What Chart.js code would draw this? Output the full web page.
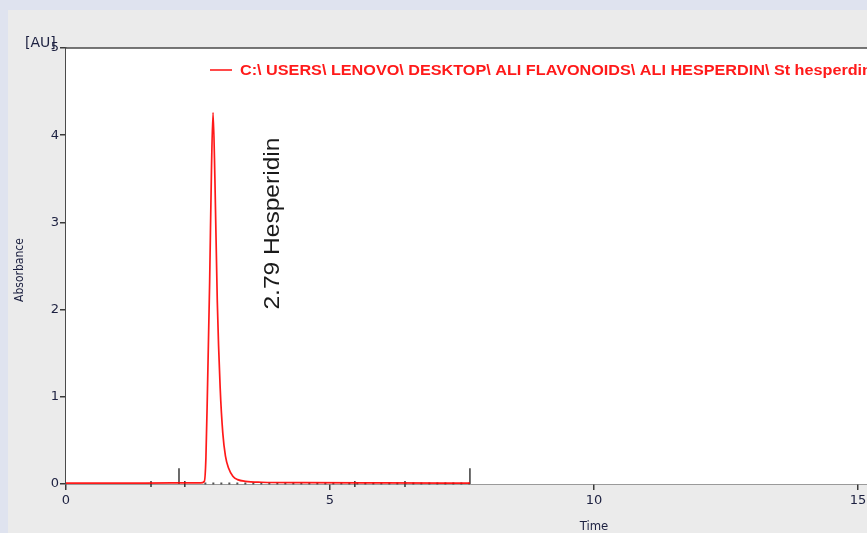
<!DOCTYPE html>
<html lang="en">
<head>
    <meta charset="UTF-8">
    <title>Hesperidin chromatogram</title>
    <script src="https://cdn.jsdelivr.net/npm/chart.js"></script>
    <style>
        body {
            margin: 0;
            padding: 0;
            background-color: #dfe3ef;
            overflow: hidden;
        }

        #panel {
            position: absolute;
            left: 8px;
            top: 10px;
            right: 0;
            bottom: 0;
            background-color: #ebebeb;
        }

        #wrap {
            position: absolute;
            left: 0;
            top: 0;
            width: 867px;
            height: 533px;
        }
    </style>
</head>
<body>
    <div id="panel"></div>
    <div id="wrap">
        <canvas id="chromChart" width="867" height="533"></canvas>
    </div>

    <script>
        // trace (time in min, absorbance in AU)
        const times = [0, 1.0, 2.0, 2.55, 2.62, 2.65, 2.68, 2.72, 2.755, 2.785, 2.82, 2.865, 2.92, 2.97, 3.02, 3.08, 3.16, 3.25, 3.4, 3.7, 4.5, 6.0, 7.65];
        const absorbance = [0.01, 0.01, 0.012, 0.012, 0.03, 0.3, 1.1, 2.3, 3.6, 4.26, 3.5, 2.1, 1.1, 0.58, 0.32, 0.18, 0.09, 0.05, 0.03, 0.02, 0.015, 0.012, 0.01];

        // integration baseline (dotted) and window markers
        const baselineTimes = [2.62, 7.65];
        const baselineValues = [0.005, 0.005];
        const windowTimes = [2.14, 7.65];
        const windowHeight = 0.18;
        const eventTimes = [1.61, 2.25, 5.47, 6.42];

        const peakTime = 2.79;
        const peakName = 'Hesperidin';
        const traceLabel = 'C:\\ USERS\\ LENOVO\\ DESKTOP\\ ALI FLAVONOIDS\\ ALI HESPERDIN\\ St hesperdin';

        const xTicks = [0, 5, 10, 15];
        const yTicks = [0, 1, 2, 3, 4, 5];
        const xMax = 15.17;
        const yMax = 5;

        const tickFont = { family: "'DejaVu Sans', Tahoma, sans-serif", size: 13 };
        const toPoints = (xs, ys) => xs.map((x, i) => ({ x: x, y: ys[i] }));

        const windowSets = windowTimes.map(t => ({
            data: [{ x: t, y: 0 }, { x: t, y: windowHeight }],
            showLine: true,
            borderColor: '#3a3a3a',
            borderWidth: 1.5,
            pointRadius: 0,
            clip: false
        }));

        const frame = {
            id: 'frame',
            beforeDatasetsDraw(chart) {
                const { ctx, chartArea } = chart;
                ctx.save();
                ctx.fillStyle = '#ffffff';
                ctx.fillRect(chartArea.left, chartArea.top, chartArea.right - chartArea.left, chartArea.bottom - chartArea.top);
                ctx.strokeStyle = '#4a4a4a';
                ctx.lineWidth = 1.5;
                ctx.beginPath();
                ctx.moveTo(chartArea.left, chartArea.top);
                ctx.lineTo(chartArea.right, chartArea.top);
                ctx.stroke();
                ctx.restore();
            },
            afterDraw(chart) {
                const { ctx } = chart;
                const xs = chart.scales.x;
                const ys = chart.scales.y;
                ctx.save();

                // legend entry
                ctx.strokeStyle = 'rgba(255,0,0,0.95)';
                ctx.lineWidth = 1.5;
                ctx.beginPath();
                ctx.moveTo(210, 70);
                ctx.lineTo(232, 70);
                ctx.stroke();
                ctx.fillStyle = '#ff1a1a';
                ctx.font = "bold 14px 'Liberation Sans Narrow', 'Liberation Sans', Arial, sans-serif";
                ctx.textBaseline = 'middle';
                const w = ctx.measureText(traceLabel).width;
                ctx.save();
                ctx.translate(240, 71);
                ctx.scale(632 / w, 1);
                ctx.fillText(traceLabel, 0, 0);
                ctx.restore();

                // peak annotation
                ctx.save();
                ctx.fillStyle = '#1a1a1a';
                ctx.font = "22px 'Liberation Sans', Arial, sans-serif";
                const ann = peakTime.toFixed(2) + ' ' + peakName;
                const aw = ctx.measureText(ann).width;
                ctx.translate(xs.getPixelForValue(peakTime) + 66, ys.getPixelForValue(2.0));
                ctx.rotate(-Math.PI / 2);
                ctx.scale(172 / aw, 1);
                ctx.textBaseline = 'alphabetic';
                ctx.textAlign = 'left';
                ctx.fillText(ann, 0, 0);
                ctx.restore();

                // axis titles
                ctx.fillStyle = '#1c2040';
                ctx.font = "14px 'DejaVu Sans', Tahoma, sans-serif";
                ctx.textAlign = 'left';
                ctx.textBaseline = 'middle';
                ctx.fillText('[AU]', 25, 43);

                ctx.save();
                ctx.font = "12px 'DejaVu Sans Condensed', 'DejaVu Sans', Tahoma, sans-serif";
                ctx.translate(20, 270);
                ctx.rotate(-Math.PI / 2);
                ctx.textAlign = 'center';
                ctx.fillText('Absorbance', 0, 0);
                ctx.restore();

                ctx.font = "13px 'DejaVu Sans Condensed', 'DejaVu Sans', Tahoma, sans-serif";
                ctx.textAlign = 'center';
                ctx.fillText('Time', xs.getPixelForValue(10), 527);
                ctx.restore();
            }
        };

        const ctx = document.getElementById('chromChart').getContext('2d');
        new Chart(ctx, {
            type: 'scatter',
            data: {
                datasets: [
                    {
                        label: traceLabel,
                        data: toPoints(times, absorbance),
                        showLine: true,
                        borderColor: 'rgba(255,0,0,0.9)',
                        borderWidth: 1.7,
                        pointRadius: 0,
                        cubicInterpolationMode: 'monotone',
                        clip: false
                    },
                    {
                        data: toPoints(baselineTimes, baselineValues),
                        showLine: true,
                        borderColor: '#555555',
                        borderWidth: 2,
                        borderDash: [2, 6],
                        pointRadius: 0,
                        clip: false
                    },
                    ...windowSets,
                    {
                        data: eventTimes.map(t => ({ x: t, y: 0 })),
                        showLine: false,
                        pointStyle: 'line',
                        rotation: 90,
                        pointRadius: 3,
                        borderColor: '#333333',
                        borderWidth: 1.5,
                        clip: false
                    }
                ]
            },
            plugins: [frame],
            options: {
                responsive: false,
                animation: false,
                layout: {
                    autoPadding: false,
                    padding: { top: 48, left: 0, right: 0, bottom: 0 }
                },
                plugins: {
                    legend: { display: false },
                    tooltip: { enabled: false }
                },
                scales: {
                    x: {
                        type: 'linear',
                        min: 0,
                        max: xMax,
                        afterFit(scale) {
                            scale.height = 49;
                            scale.paddingLeft = 0;
                            scale.paddingRight = 0;
                        },
                        afterBuildTicks(scale) { scale.ticks = xTicks.map(v => ({ value: v })); },
                        ticks: {
                            color: '#1c2040',
                            font: tickFont,
                            padding: 3,
                            maxRotation: 0
                        },
                        grid: {
                            drawOnChartArea: false,
                            drawTicks: true,
                            tickLength: 6,
                            color: '#3a3a3a',
                            lineWidth: 1.5
                        },
                        border: { color: '#4a4a4a', width: 1.5 }
                    },
                    y: {
                        type: 'linear',
                        min: 0,
                        max: yMax,
                        afterFit(scale) {
                            scale.width = 66;
                            scale.paddingTop = 0;
                            scale.paddingBottom = 0;
                        },
                        afterBuildTicks(scale) { scale.ticks = yTicks.map(v => ({ value: v })); },
                        ticks: {
                            color: '#1c2040',
                            font: tickFont,
                            padding: 1
                        },
                        grid: {
                            drawOnChartArea: false,
                            drawTicks: true,
                            tickLength: 6,
                            color: '#3a3a3a',
                            lineWidth: 1.5
                        },
                        border: { color: '#4a4a4a', width: 1.5 }
                    }
                }
            }
        });
    </script>
</body>
</html>
